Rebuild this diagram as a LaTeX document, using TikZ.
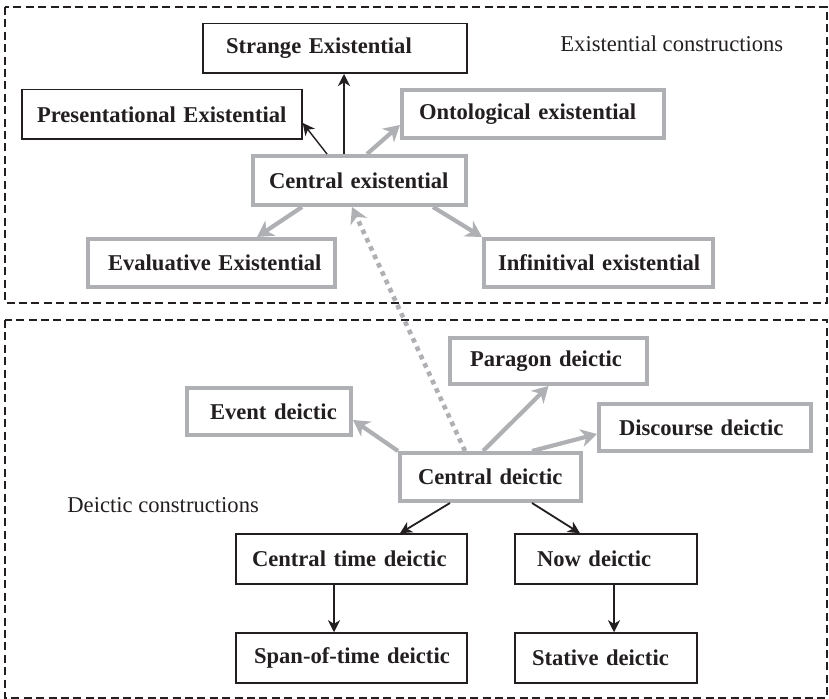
\documentclass[tikz,border=0pt]{standalone}
\usepackage{fontspec}
\setmainfont{Liberation Serif}
\usetikzlibrary{arrows.meta,calc}
\definecolor{ink}{RGB}{35,31,32}
\definecolor{boxgray}{RGB}{175,176,179}
\tikzset{
  lbox/.style 2 args={text width=#1, inner xsep=0pt, inner ysep=0pt, align=left,
    font=\fontsize{11.3}{13}\selectfont\bfseries, text=ink,
    execute at begin node={\hspace*{#2}}},
  plainbox/.style={draw=ink, line width=0.75pt, minimum height=24.75pt},
  graybox/.style={draw=boxgray, line width=2pt, minimum height=24pt},
  blackarrow/.style={draw=ink, line width=0.9pt, -{Stealth[length=6pt,width=6pt,inset=1.8pt]}},
  grayarrow/.style={draw=boxgray, line width=2.1pt, -{Stealth[length=8pt,width=9pt,inset=2.5pt]}},
  frame/.style={draw=ink, line width=1.1pt, dash pattern=on 4pt off 2.2pt},
  caption/.style={font=\fontsize{11.3}{13}\selectfont, text=ink, inner sep=0pt}
}
\begin{document}
\begin{tikzpicture}[x=0.5pt,y=-0.5pt]
\useasboundingbox (0,0) rectangle (829,699);
\draw[frame] (5,7) rectangle (827,303);
\draw[frame] (5,320) rectangle (827,698);
\node[caption, anchor=base west] (exlabel) at (560,52) {Existential constructions};
\node[caption, anchor=base west] (dxlabel) at (67,512) {Deictic constructions};

\node[plainbox, lbox={132pt}{11.5pt}] (strange) at (335,48.5) {Strange Existential};
\node[plainbox, lbox={140pt}{7.5pt}] (present) at (162,114.5) {Presentational Existential};
\node[graybox, lbox={131pt}{8.5pt}] (onto) at (533,114) {Ontological existential};
\node[graybox, lbox={106.5pt}{8pt}, minimum height=24.5pt] (centralex) at (359.5,180.5) {Central existential};
\node[graybox, lbox={123.5pt}{10pt}] (eval) at (211.5,263) {Evaluative Existential};
\node[graybox, lbox={114.5pt}{7pt}] (infin) at (598.5,263) {Infinitival existential};

\node[graybox, lbox={98.5pt}{10pt}, minimum height=23pt] (paragon) at (548.5,361) {Paragon deictic};
\node[graybox, lbox={82pt}{11.5pt}, minimum height=23.5pt] (event) at (269,411.5) {Event deictic};
\node[graybox, lbox={106pt}{10pt}, minimum height=23.5pt] (discourse) at (705,427.5) {Discourse deictic};
\node[graybox, lbox={90.5pt}{9pt}] (centraldx) at (490.5,477) {Central deictic};
\node[plainbox, lbox={115.5pt}{8pt}, minimum height=25pt] (centraltime) at (351.5,559) {Central time deictic};
\node[plainbox, lbox={91pt}{11pt}, minimum height=25pt] (now) at (606,559) {Now deictic};
\node[plainbox, lbox={115.5pt}{9pt}, minimum height=25pt] (span) at (351.5,658) {Span-of-time deictic};
\node[plainbox, lbox={91pt}{8.5pt}, minimum height=25pt] (stative) at (606,658) {Stative deictic};

\draw[blackarrow] ($(centralex.north)+(-15.5,0)$) -- ($(strange.south)+(9,0)$);
\draw[blackarrow, line width=0.7pt] ($(centralex.north)+(-32.5,0)$) -- ($(present.east)+(0,8.5)$);
\draw[grayarrow] ($(centralex.north)+(7.5,0)$) -- ($(onto.west)+(0,11)$);
\draw[grayarrow] ($(centralex.south)+(-57.5,0)$) -- ($(eval.north)+(45.5,0)$);
\draw[grayarrow] ($(centralex.south)+(73.5,0)$) -- (infin.north west);
\draw[grayarrow, line width=2.3pt, dash pattern=on 2.3pt off 2.3pt] ($(centraldx.north)+(-25.5,0)$) -- ($(centralex.south)+(-7.5,0)$);
\draw[grayarrow] (centraldx.north west) -- ($(event.east)+(0,8.5)$);
\draw[grayarrow] ($(centraldx.north)+(-7.5,0)$) -- (paragon.south);
\draw[grayarrow] ($(centraldx.north)+(41.5,0)$) -- ($(discourse.west)+(0,6.5)$);
\draw[blackarrow] ($(centraldx.south)+(-40.5,0)$) -- ($(centraltime.north)+(48.5,0)$);
\draw[blackarrow] ($(centraldx.south)+(41.5,0)$) -- ($(now.north)+(-26,0)$);
\draw[blackarrow] ($(centraltime.south)+(-17.5,0)$) -- ($(span.north)+(-17.5,0)$);
\draw[blackarrow] ($(now.south)+(8,0)$) -- ($(stative.north)+(8,0)$);
\end{tikzpicture}
\end{document}
